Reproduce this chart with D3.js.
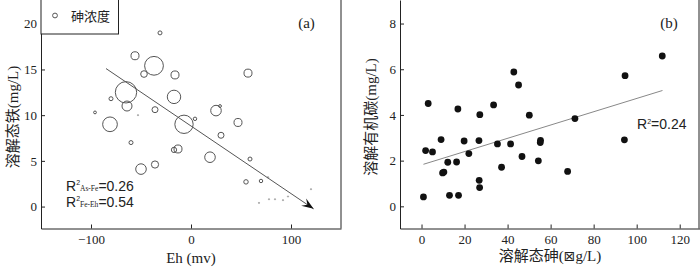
<!DOCTYPE html>
<html>
<head>
<meta charset="utf-8">
<script src="https://cdn.jsdelivr.net/npm/d3@7"></script>
<style>
  body { margin: 0; background: #fff; }
  svg { display: block; }
  .tick line, .domain { stroke: #222; }
</style>
</head>
<body>
<div id="target_div"></div>
<script>
// panel (a): Eh vs dissolved Fe, bubble size = As
var eh = [-31, -56, -37, -47, -16, -65, -17, -80, -64, -36, -96, -53, -81, -7, 4, -60, -13, -17, -36, -50,
          57, 25, 29, 47, 30, 19, 59, 77, 55, 70, 78, 84, 92, 97, 68, 120];
var fe = [19.0, 16.5, 15.4, 14.5, 14.4, 12.5, 12.0, 11.8, 11.0, 10.6, 10.3, 10.0, 9.0, 9.0, 9.6, 7.0, 6.3, 6.2, 4.6, 4.1,
          14.6, 10.5, 11.0, 9.2, 7.8, 5.4, 5.2, 3.2, 2.7, 2.8, 0.8, 0.8, 0.7, 1.1, 0.4, 1.9];
var asA = [4, 16, 88, 11, 16, 114, 45, 4, 25, 9, 2, 0.3, 54, 84, 3, 4, 16, 7, 13, 28,
           16, 28, 2, 16, 9, 28, 4, 0.5, 5, 3, 0.3, 0.2, 0.2, 0.2, 0.2, 0.2];
var arrowEh = [-85, 122.6];
var arrowFe = [15.1, -0.25];

// panel (b): dissolved As vs DOC
var asB = [0.9, 1.9, 3.1, 5.1, 9.1, 9.8, 10.4, 12.2, 13.0, 16.3, 16.9, 17.2, 19.8, 22.0, 26.7, 26.8, 27.0, 27.1,
           33.5, 35.3, 37.2, 41.4, 42.9, 45.1, 46.7, 50.1, 54.3, 55.3, 55.2, 67.9, 71.3, 94.3, 94.6, 111.9];
var doc = [0.41, 2.44, 4.50, 2.38, 2.92, 1.46, 1.50, 1.93, 0.48, 1.94, 4.26, 0.48, 2.86, 2.31, 2.88, 1.14, 0.82, 4.01,
           4.44, 2.73, 1.71, 2.73, 5.88, 5.31, 2.18, 3.99, 1.99, 2.89, 2.79, 1.53, 3.84, 2.91, 5.72, 6.58];
var trendAs = [0.9, 112];
var trendDoc = [1.84, 5.07];

var ticksA_x = [-100, 0, 100];
var ticksA_y = [0, 5, 10, 15, 20];
var ticksB_x = [0, 20, 40, 60, 80, 100, 120];
var ticksB_y = [0, 2, 4, 6, 8];

var serif = '"Liberation Serif", "Times New Roman", "Noto Sans CJK SC", serif';
var sans = '"Liberation Sans", Arial, sans-serif';

var svg = d3.select('#target_div').append('svg')
  .attr('width', 700)
  .attr('height', 269);

svg.append('defs').append('marker')
  .attr('id', 'arrowhead')
  .attr('markerUnits', 'userSpaceOnUse')
  .attr('viewBox', '-12 -6 14 12')
  .attr('refX', 0).attr('refY', 0)
  .attr('markerWidth', 14).attr('markerHeight', 12)
  .attr('orient', 'auto')
  .append('path')
  .attr('d', 'M0,0 L-12,-4.5 L-7.5,0 L-12,4.5 Z')
  .style('fill', '#111');

function style_ticks(g) {
  g.attr('font-family', null).attr('font-size', null);
  g.selectAll('text')
    .style('font-family', serif)
    .style('font-size', '13px')
    .style('fill', '#222');
}

// ----- panel (a) -----
var xA = d3.scaleLinear().domain([-150, 150]).range([41, 341]);
var yA = d3.scaleLinear().domain([-2.4, 22.6]).range([228.5, 0]);
var rA = d3.scaleSqrt().domain([0, 114]).range([0, 10.68]);

var gA = svg.append('g');

gA.append('g')
  .attr('transform', 'translate(0, 228.5)')
  .call(d3.axisBottom(xA).tickValues(ticksA_x).tickSizeInner(-4).tickSizeOuter(0).tickPadding(6))
  .call(style_ticks);
gA.append('g')
  .attr('transform', 'translate(41, 0)')
  .call(d3.axisLeft(yA).tickValues(ticksA_y).tickSizeInner(-4).tickSizeOuter(0).tickPadding(4))
  .call(style_ticks);

// right edge of frame
gA.append('line')
  .attr('x1', 341).attr('x2', 341).attr('y1', 0).attr('y2', 228.5)
  .style('stroke', '#222');

gA.selectAll('circle.bubble')
  .data(eh.map((d, i) => ({eh: d, fe: fe[i], as: asA[i]})))
  .enter()
  .append('circle')
  .attr('class', 'bubble')
  .attr('cx', d => xA(d.eh))
  .attr('cy', d => yA(d.fe))
  .attr('r', d => Math.max(rA(d.as), 0.6))
  .style('fill', 'none')
  .style('stroke', d => d.as < 1 ? '#999' : '#555')
  .style('stroke-width', 1);

gA.append('line')
  .attr('x1', xA(arrowEh[0])).attr('y1', yA(arrowFe[0]))
  .attr('x2', xA(arrowEh[1])).attr('y2', yA(arrowFe[1]))
  .style('stroke', '#555')
  .style('stroke-width', 1)
  .attr('marker-end', 'url(#arrowhead)');

// legend box
gA.append('rect')
  .attr('x', 41).attr('y', -1).attr('width', 77.5).attr('height', 35)
  .style('fill', '#fff')
  .style('stroke', '#222');
gA.append('circle')
  .attr('cx', 55).attr('cy', 15.5).attr('r', 2.4)
  .style('fill', 'none').style('stroke', '#555');
gA.append('text')
  .attr('x', 71).attr('y', 20.5)
  .style('font-family', '"Noto Sans CJK SC", sans-serif')
  .style('font-size', '13px')
  .style('fill', '#222')
  .text('砷浓度');

gA.append('text')
  .attr('x', 306.5).attr('y', 27.5)
  .attr('text-anchor', 'middle')
  .style('font-family', serif).style('font-size', '15px').style('fill', '#222')
  .text('(a)');

var r2 = [['As-Fe', '0.26', 190.7], ['Fe-Eh', '0.54', 206.7]];
r2.forEach(function (d) {
  var t = gA.append('text')
    .attr('x', 66).attr('y', d[2])
    .style('font-family', sans).style('font-size', '14px').style('fill', '#222');
  t.append('tspan').text('R');
  t.append('tspan').attr('dy', -5.5).style('font-size', '7px').text('2');
  t.append('tspan').attr('dy', 5.5).style('font-size', '7.5px').style('font-family', serif).text(d[0]);
  t.append('tspan').text('=' + d[1]);
});

gA.append('text')
  .attr('x', 191).attr('y', 263)
  .attr('text-anchor', 'middle')
  .style('font-family', serif).style('font-size', '15px').style('fill', '#222')
  .text('Eh (mv)');

gA.append('text')
  .attr('transform', 'translate(18, 117) rotate(-90)')
  .attr('text-anchor', 'middle')
  .style('font-family', serif).style('font-size', '15px').style('fill', '#222')
  .text('溶解态铁(mg/L)');

// ----- panel (b) -----
var xB = d3.scaleLinear().domain([-10, 129.2]).range([400, 699.5]);
var yB = d3.scaleLinear().domain([-0.97, 9.03]).range([228.5, 0]);

var gB = svg.append('g');

gB.append('g')
  .attr('transform', 'translate(0, 228.5)')
  .call(d3.axisBottom(xB).tickValues(ticksB_x).tickSizeInner(-4).tickSizeOuter(0).tickPadding(6))
  .call(style_ticks);
gB.append('g')
  .attr('transform', 'translate(400, 0)')
  .call(d3.axisLeft(yB).tickValues(ticksB_y).tickSizeInner(-4).tickSizeOuter(0).tickPadding(4))
  .call(style_ticks);

gB.append('line')
  .attr('x1', 699).attr('x2', 699).attr('y1', 0).attr('y2', 228.5)
  .style('stroke', '#222');

gB.append('line')
  .attr('x1', xB(trendAs[0])).attr('y1', yB(trendDoc[0]))
  .attr('x2', xB(trendAs[1])).attr('y2', yB(trendDoc[1]))
  .style('stroke', '#888')
  .style('stroke-width', 1);

gB.selectAll('circle.dot')
  .data(asB.map((d, i) => ({as: d, doc: doc[i]})))
  .enter()
  .append('circle')
  .attr('class', 'dot')
  .attr('cx', d => xB(d.as))
  .attr('cy', d => yB(d.doc))
  .attr('r', 3.4)
  .style('fill', '#111');

gB.append('text')
  .attr('x', 669).attr('y', 27.5)
  .attr('text-anchor', 'middle')
  .style('font-family', serif).style('font-size', '15px').style('fill', '#222')
  .text('(b)');

var tb = gB.append('text')
  .attr('x', 637).attr('y', 129)
  .style('font-family', sans).style('font-size', '14px').style('fill', '#222');
tb.append('tspan').text('R');
tb.append('tspan').attr('dy', -5.5).style('font-size', '7px').text('2');
tb.append('tspan').attr('dy', 5.5).text('=0.24');

var xl = gB.append('text')
  .attr('x', 550).attr('y', 261)
  .attr('text-anchor', 'middle')
  .style('font-family', serif).style('font-size', '15px').style('fill', '#222');
xl.append('tspan').text('溶解态砷(');
xl.append('tspan').style('font-family', '"DejaVu Sans", sans-serif').style('font-size', '14px').text('⊠');
xl.append('tspan').text('g/L)');

gB.append('text')
  .attr('transform', 'translate(376, 117) rotate(-90)')
  .attr('text-anchor', 'middle')
  .style('font-family', serif).style('font-size', '15px').style('fill', '#222')
  .text('溶解有机碳(mg/L)');
</script>
</body>
</html>
